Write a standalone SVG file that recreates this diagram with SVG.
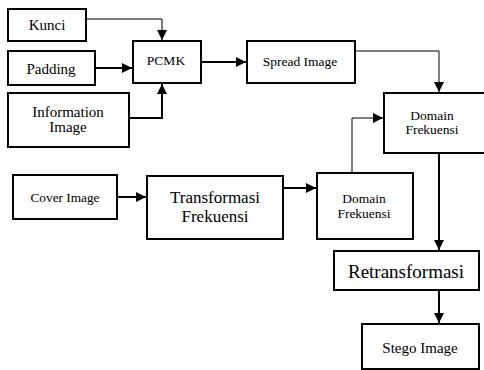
<svg xmlns="http://www.w3.org/2000/svg" width="484" height="370" viewBox="0 0 484 370">
<defs>
<marker id="ah" viewBox="0 0 10 10" refX="10" refY="5" markerWidth="10" markerHeight="10" markerUnits="userSpaceOnUse" orient="auto">
<path d="M0,0 L10,5 L0,10 Z" fill="#000"/>
</marker>
</defs>
<style>
.box{fill:#fff;stroke:#000;stroke-width:2}
.t{fill:#000;text-anchor:middle}
.thin{fill:none;stroke:#000;stroke-width:1}
.thick{fill:none;stroke:#000;stroke-width:2}
</style>
<rect width="484" height="370" fill="#fff"/>
<g id="connectors">
<path class="thin" d="M86,19 H162 V40" marker-end="url(#ah)"/>
<path class="thick" d="M95,68 H132" marker-end="url(#ah)"/>
<path class="thick" d="M129,118 H162 V84" marker-end="url(#ah)"/>
<path class="thick" d="M201,62 H246" marker-end="url(#ah)"/>
<path class="thin" d="M355,51 H439 V92" marker-end="url(#ah)"/>
<path class="thick" d="M117,197 H146" marker-end="url(#ah)"/>
<path class="thick" d="M283,188 H316" marker-end="url(#ah)"/>
<path class="thin" d="M352,173 V118 H383" marker-end="url(#ah)"/>
<path class="thick" d="M439,153 V250" marker-end="url(#ah)"/>
<path class="thick" d="M439,290 V323" marker-end="url(#ah)"/>
</g>
<g font-family="Liberation Serif, DejaVu Serif, Times New Roman, serif">
<g id="kunci"><rect class="box" x="8" y="9" width="78" height="32"/><text class="t" x="47" y="30" font-size="15">Kunci</text></g>
<g id="padding"><rect class="box" x="8" y="51" width="87" height="34"/><text class="t" x="51" y="74" font-size="15">Padding</text></g>
<g id="information"><rect class="box" x="8" y="93" width="121" height="54"/><text class="t" x="68" y="117" font-size="15">Information</text><text class="t" x="68" y="132" font-size="15">Image</text></g>
<g id="pcmk"><rect class="box" x="133" y="41" width="68" height="42"/><text class="t" x="166" y="65" font-size="13.5">PCMK</text></g>
<g id="spread"><rect class="box" x="247" y="41" width="108" height="42"/><text class="t" x="300" y="66" font-size="13.5">Spread Image</text></g>
<g id="domain1"><rect class="box" x="384" y="93" width="110" height="60"/><text class="t" x="432" y="120" font-size="13.5">Domain</text><text class="t" x="432" y="134" font-size="13.5">Frekuensi</text></g>
<g id="cover"><rect class="box" x="13" y="175" width="104" height="44"/><text class="t" x="65" y="202" font-size="13.3">Cover Image</text></g>
<g id="transformasi"><rect class="box" x="147" y="176" width="136" height="63"/><text class="t" x="215" y="203" font-size="17">Transformasi</text><text class="t" x="215" y="222" font-size="17">Frekuensi</text></g>
<g id="domain2"><rect class="box" x="317" y="173" width="96" height="66"/><text class="t" x="364" y="203" font-size="13.5">Domain</text><text class="t" x="364" y="218" font-size="13.5">Frekuensi</text></g>
<g id="retransformasi"><rect class="box" x="334" y="251" width="145" height="39"/><text class="t" x="406" y="278" font-size="19">Retransformasi</text></g>
<g id="stego"><rect class="box" x="362" y="324" width="117" height="45"/><text class="t" x="420" y="353" font-size="15">Stego Image</text></g>
</g>
</svg>
